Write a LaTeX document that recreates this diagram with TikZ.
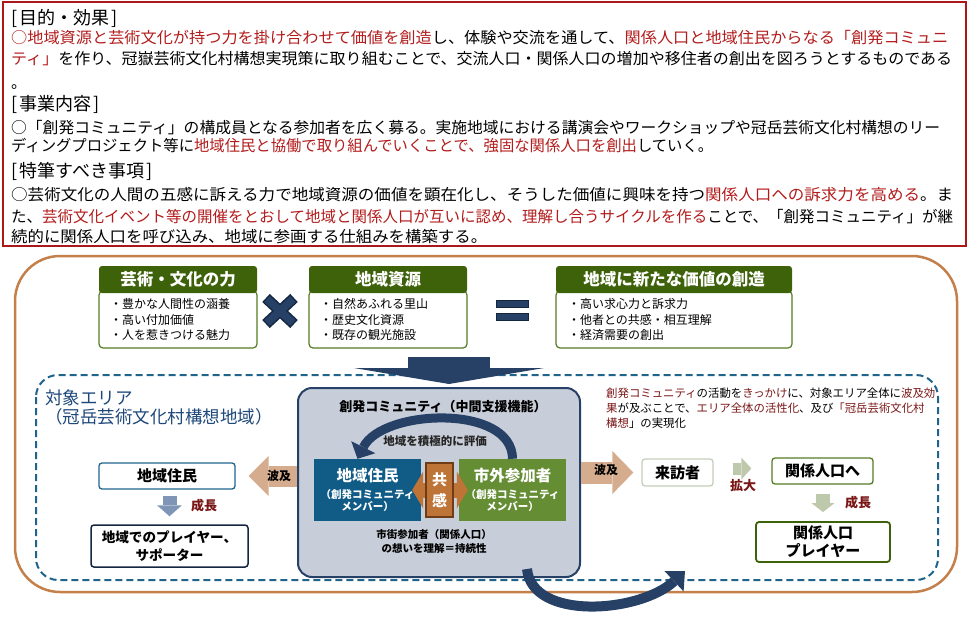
\documentclass[tikz,border=0pt]{standalone}
\usepackage{fontspec}
\usepackage{graphicx}
\setmainfont{Noto Sans CJK JP}
\usetikzlibrary{arrows.meta}

\definecolor{frameRed}{RGB}{172,24,24}
\definecolor{textRed}{RGB}{178,28,28}
\definecolor{darkRed}{RGB}{122,22,22}
\definecolor{frameBrown}{RGB}{196,128,74}
\definecolor{areaBlue}{RGB}{31,100,140}
\definecolor{areaText}{RGB}{30,72,122}
\definecolor{navy}{RGB}{38,64,102}
\definecolor{navyDark}{RGB}{20,38,66}
\definecolor{headGreen}{RGB}{62,98,10}
\definecolor{lineGreen}{RGB}{84,124,34}
\definecolor{commFill}{RGB}{200,206,217}
\definecolor{residentBlue}{RGB}{16,92,135}
\definecolor{visitorGreen}{RGB}{100,141,52}
\definecolor{empathy}{RGB}{190,115,55}
\definecolor{empathyDark}{RGB}{110,60,22}
\definecolor{spreadTan}{RGB}{214,172,142}
\definecolor{growBlue}{RGB}{126,149,181}
\definecolor{growGreen}{RGB}{190,201,172}
\definecolor{visitBorder}{RGB}{196,206,186}

\newcommand\fsz[2]{\fontsize{#1}{#2}\selectfont}
\newcommand\hlred[1]{\textcolor{textRed}{#1}}
\newcommand\hlmaroon[1]{\textcolor{darkRed}{#1}}
\newcommand\fitline[2]{\resizebox{#1}{\height}{#2}}

\begin{document}
\begin{tikzpicture}[x=1pt,y=-1pt,
    txtline/.style={anchor=base west, inner sep=0pt, font=\fsz{15.6}{18}},
    heading/.style={anchor=base west, inner sep=0pt, font=\fsz{18}{20}},
    headbox/.style={fill=headGreen, rounded corners=3pt, minimum height=27pt, inner sep=0pt, text=white, font=\bfseries\fsz{16.5}{18}},
    listbox/.style={draw=lineGreen, line width=1.2pt, fill=white, rounded corners=4pt, minimum height=57pt, inner xsep=11pt, align=left, font=\fsz{12}{15.5}},
    plainbox/.style={draw, fill=white, line width=1.3pt, rounded corners=3pt, inner sep=0pt, align=center, font=\bfseries\fsz{15}{18}},
    memberbox/.style={minimum width=107pt, minimum height=62pt, inner sep=0pt, text=white, align=center, font=\bfseries\fsz{10.5}{12}},
    growlabel/.style={text=darkRed, font=\bfseries\fsz{13}{15}},
    spreadlabel/.style={font=\bfseries\fsz{12}{14}}
]
\useasboundingbox (0,0) rectangle (970,621);

% purpose box
\draw[frameRed, line width=2.5pt] (3,2) rectangle (966,246);

\node[heading] (purposeHead) at (11,24) {[\kern2pt 目的・効果\kern2pt]};
\node[txtline] (purpose1) at (11,43) {\fitline{937pt}{\hlred{○地域資源と芸術文化が持つ力を掛け合わせて価値を創造}し、体験や交流を通して、\hlred{関係人口と地域住民からなる「創発コミュニ}}};
\node[txtline] (purpose2) at (11,64) {\fitline{941pt}{\hlred{ティ」}を作り、冠嶽芸術文化村構想実現策に取り組むことで、交流人口・関係人口の増加や移住者の創出を図ろうとするものである}};
\node[txtline] (purpose3) at (11,88) {。};
%
\node[heading] (projectHead) at (11,110.5) {[\kern2pt 事業内容\kern2pt]};
\node[txtline] (project1) at (11,133) {\fitline{929pt}{○「創発コミュニティ」の構成員となる参加者を広く募る。実施地域における講演会やワークショップや冠岳芸術文化村構想のリー}};
\node[txtline] (project2) at (11,151) {\fitline{702pt}{ディングプロジェクト等に\hlred{地域住民と協働で取り組んでいくことで、強固な関係人口を創出}していく。}};
%
\node[heading] (noteHead) at (11,177) {[\kern2pt 特筆すべき事項\kern2pt]};
\node[txtline] (note1) at (11,200) {\fitline{942pt}{○芸術文化の人間の五感に訴える力で地域資源の価値を顕在化し、そうした価値に興味を持つ\hlred{関係人口への訴求力を高める}。ま}};
\node[txtline] (note2) at (11,222) {\fitline{942pt}{た、\hlred{芸術文化イベント等の開催をとおして地域と関係人口が互いに認め、理解し合うサイクルを作る}ことで、「創発コミュニティ」が継}};
\node[txtline] (note3) at (11,242) {\fitline{476pt}{続的に関係人口を呼び込み、地域に参画する仕組みを構築する。}};

% concept frame
\draw[frameBrown, line width=2.5pt, rounded corners=45pt] (15,256) rectangle (957,592);
\draw[areaBlue, line width=2pt, dash pattern=on 7pt off 4pt, rounded corners=22pt] (36,375) rectangle (938,580);

\node[listbox, minimum width=158pt, text width=136pt] (artList) at (178,319.5) {・豊かな人間性の涵養\\・高い付加価値\\・人を惹きつける魅力};
\node[headbox, minimum width=158pt] (artHead) at (178,279.5) {芸術・文化の力};
\node[listbox, minimum width=158pt, text width=136pt] (resourceList) at (388,319.5) {・自然あふれる里山\\・歴史文化資源\\・既存の観光施設};
\node[headbox, minimum width=158pt] (resourceHead) at (388,279.5) {地域資源};
\node[listbox, minimum width=236pt, text width=212pt] (valueList) at (674,319.5) {・高い求心力と訴求力\\・他者との共感・相互理解\\・経済需要の創出};
\node[headbox, minimum width=236pt] (valueHead) at (674,279.5) {地域に新たな価値の創造};

% times and equals
\draw[navyDark, line width=11pt] (266,298) -- (294,324) (294,298) -- (266,324);
\draw[navy, line width=8pt] (267,299) -- (293,323) (293,299) -- (267,323);
\draw[fill=navy, draw=navyDark, line width=1pt] (496,300) rectangle (528,307) (496,313) rectangle (528,320);

\coordinate (flowTop) at (449,357);
\coordinate (flowTip) at (449,384);
\draw[navy, line width=82pt, -{Triangle[length=16pt,width=190pt,line width=0pt]}] (flowTop) -- (flowTip);

\node[anchor=west, inner sep=0pt, align=left, text=areaText, font=\fsz{17.5}{19}] (area) at (45,407.5) {対象エリア\\（冠岳芸術文化村構想地域）};

% community
\node[draw=navy, fill=commFill, line width=2pt, rounded corners=14pt, minimum width=282pt, minimum height=189pt] (community) at (439,482.5) {};
\node[font=\bfseries\fsz{13}{15}] (commTitle) at (443,407) {創発コミュニティ（中間支援機能）};
\node[memberbox, fill=residentBlue] (member) at (367.5,490) {{\fsz{15.5}{17}地域住民}\\[5pt]（創発コミュニティ\\メンバー）};
\node[memberbox, fill=visitorGreen] (visitor) at (512.5,490) {{\fsz{15.5}{17}市外参加者}\\[5pt]（創発コミュニティ\\メンバー）};
\draw[empathy, line width=15pt, {Triangle[length=11pt,width=37pt,line width=0pt]}-{Triangle[length=11pt,width=37pt,line width=0pt]}] ([xshift=-9pt]member.east) -- ([xshift=9pt]visitor.west);
\node[fill=empathy, draw=empathyDark, line width=1.5pt, minimum width=27pt, minimum height=54pt, inner sep=0pt, text=white, align=center, font=\bfseries\fsz{15}{21}] (empathyBox) at (439.5,490) {共\\感};
\draw[navy, line width=9pt, -{Triangle[length=13pt,width=27pt,line width=0pt]}] (visitor.north) .. controls +(0,-55) and +(25,-50) .. ([xshift=-10pt]member.north);
\node[text=black!85, font=\bfseries\fsz{11.5}{13}] (evalText) at (435,441) {地域を積極的に評価};
\node[align=center, font=\bfseries\fsz{10.5}{13.5}] (sustain) at (434,541.5) {市街参加者（関係人口）\\の想いを理解＝持続性};

% left side
\node[plainbox, draw=areaBlue, minimum width=136pt, minimum height=26pt] (resident) at (167,476) {地域住民};
\node[plainbox, draw=navyDark, line width=1.5pt, minimum width=157pt, minimum height=42pt, font=\bfseries\fsz{13.6}{18}] (localPlayer) at (169.5,546) {地域でのプレイヤー、\\サポーター};
\draw[spreadTan, line width=21pt, shorten >=13pt, -{Triangle[length=20pt,width=40pt,line width=0pt]}] (community.west |- resident.east) -- (resident.east);
\node[spreadlabel] (spreadLeft) at (279,476) {波及};
\draw[growBlue, line width=14pt, shorten <=6pt, shorten >=8pt, -{Triangle[length=11pt,width=25pt,line width=0pt]}] (localPlayer.north |- resident.south) -- (localPlayer.north);
\node[growlabel] (growLeft) at (204,506) {成長};

% right side
\node[anchor=west, inner sep=0pt, align=left, font=\fsz{11.4}{15}] (effect) at (606,408) {\hlmaroon{創発コミュニティ}の活動を\hlmaroon{きっかけ}に、対象エリア全体に\hlmaroon{波及効}\\\hlmaroon{果}が及ぶことで、\hlmaroon{エリア全体の活性化}、及び\hlmaroon{「冠岳芸術文化村}\\\hlmaroon{構想}」の実現化};
\node[plainbox, draw=visitBorder, minimum width=71pt, minimum height=27pt] (guest) at (677.5,472.5) {来訪者};
\draw[spreadTan, line width=22pt, shorten >=8pt, -{Triangle[length=21pt,width=43pt,line width=0pt]}] (community.east |- guest.west) -- (guest.west);
\node[spreadlabel] (spreadRight) at (606,470) {波及};
\node[plainbox, draw=lineGreen, minimum width=101pt, minimum height=26pt] (kankei) at (822.5,471) {関係人口へ};
\draw[growGreen, line width=12pt, shorten <=19pt, shorten >=20pt, -{Triangle[length=10pt,width=22pt,line width=0pt]}] ([yshift=4pt]guest.east) -- ([yshift=4pt]guest.east -| kankei.west);
\node[growlabel] (expand) at (743,486) {拡大};
\node[plainbox, draw=headGreen, line width=1.8pt, minimum width=134pt, minimum height=40pt, font=\bfseries\fsz{15}{18}] (kankeiPlayer) at (823,542) {関係人口\\プレイヤー};
\draw[growGreen, line width=14pt, shorten <=9pt, shorten >=9pt, -{Triangle[length=9pt,width=23pt,line width=0pt]}] (kankeiPlayer.north |- kankei.south) -- (kankeiPlayer.north);
\node[growlabel] (growRight) at (858,503) {成長};

% loop back arrow
\coordinate (loopEnd) at (685,571);
\draw[navy, line width=10pt, -{Triangle[length=15pt,width=28pt,line width=0pt]}] ([xshift=88pt,yshift=9pt]community.south) .. controls +(5,52) and +(-45,42) .. (loopEnd);
\end{tikzpicture}
\end{document}
